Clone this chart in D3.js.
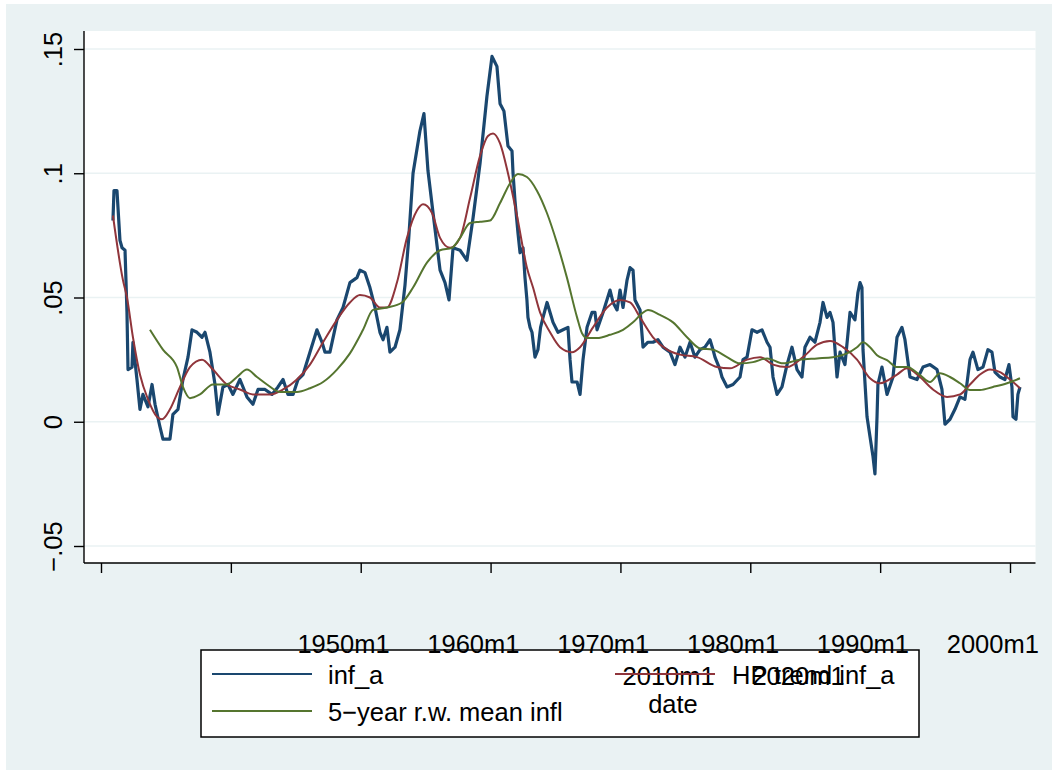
<!DOCTYPE html>
<html>
<head>
<meta charset="utf-8">
<script src="https://cdn.jsdelivr.net/npm/d3@7"></script>
<style>
  body { margin: 0; background: #ffffff; }
  text { font-family: "Liberation Sans", Arial, sans-serif; fill: #000; }
</style>
</head>
<body>
<script>
// inflation series (decimal year, value)
var infYears = [1950.92,1951.00,1951.23,1951.46,1951.62,1951.85,1952.00,1952.08,1952.39,1952.46,1952.77,1953.00,1953.23,1953.62,1953.93,1954.16,1954.54,1954.77,1955.31,1955.54,1955.93,1956.31,1956.70,1957.01,1957.39,1957.78,1958.01,1958.39,1958.78,1959.01,1959.39,1959.78,1960.16,1960.70,1961.24,1961.70,1962.09,1962.63,1963.17,1963.63,1964.02,1964.40,1964.79,1965.17,1965.56,1966.09,1966.63,1967.02,1967.25,1967.63,1968.17,1968.64,1969.17,1969.71,1969.94,1970.33,1970.71,1971.10,1971.48,1971.72,1972.02,1972.25,1972.64,1973.02,1973.41,1973.70,1974.03,1974.56,1974.87,1975.18,1975.57,1976.11,1976.49,1976.80,1977.11,1977.65,1978.18,1978.65,1979.19,1979.72,1980.11,1980.49,1980.73,1981.03,1981.34,1981.65,1981.73,1981.88,1982.11,1982.27,1982.50,1982.65,1982.80,1982.88,1983.04,1983.19,1983.42,1983.65,1983.85,1984.04,1984.35,1984.81,1985.19,1985.58,1985.96,1986.12,1986.27,1986.66,1986.89,1987.12,1987.43,1987.81,1988.04,1988.20,1988.66,1989.20,1989.43,1989.74,1989.97,1990.20,1990.51,1990.74,1990.97,1991.12,1991.51,1991.74,1992.12,1992.51,1992.89,1993.28,1993.82,1994.20,1994.59,1994.97,1995.36,1995.74,1996.13,1996.51,1996.90,1997.13,1997.28,1997.67,1997.82,1998.21,1998.67,1999.21,1999.44,1999.75,2000.13,2000.52,2000.90,2001.29,2001.52,2001.75,2002.06,2002.44,2002.83,2003.21,2003.60,2003.98,2004.21,2004.60,2004.98,2005.37,2005.60,2005.91,2006.14,2006.37,2006.68,2006.91,2007.29,2007.68,2008.06,2008.29,2008.45,2008.60,2008.68,2008.99,2009.22,2009.45,2009.60,2009.76,2009.83,2010.14,2010.53,2010.99,2011.30,2011.68,2011.91,2012.30,2012.84,2013.30,2013.84,2014.38,2014.76,2014.99,2015.38,2015.76,2016.15,2016.53,2016.92,2017.15,2017.53,2017.92,2018.30,2018.61,2018.84,2019.23,2019.61,2019.92,2020.15,2020.23,2020.46,2020.61,2020.77];
var infVals = [.081,.093,.093,.073,.070,.069,.044,.021,.022,.032,.017,.005,.011,.006,.015,.007,-.002,-.007,-.007,.003,.005,.017,.026,.037,.036,.034,.036,.028,.015,.003,.014,.015,.011,.017,.010,.007,.013,.013,.011,.014,.017,.011,.011,.017,.019,.028,.037,.032,.028,.028,.041,.046,.056,.058,.061,.060,.054,.046,.036,.033,.038,.028,.030,.037,.055,.074,.100,.117,.124,.101,.084,.061,.056,.049,.070,.069,.065,.082,.104,.131,.147,.143,.128,.125,.111,.109,.100,.089,.076,.068,.070,.058,.049,.042,.038,.036,.026,.029,.038,.042,.048,.040,.036,.037,.038,.025,.016,.016,.011,.025,.038,.044,.044,.037,.044,.053,.048,.045,.053,.046,.057,.062,.061,.049,.045,.030,.032,.032,.033,.030,.028,.023,.030,.026,.032,.026,.029,.030,.033,.029,.026,.021,.018,.014,.015,.018,.025,.026,.037,.036,.037,.032,.030,.018,.011,.014,.023,.030,.021,.018,.030,.034,.032,.040,.048,.042,.044,.040,.018,.028,.023,.044,.041,.052,.056,.054,.029,.002,-.006,-.014,-.021,.002,.015,.022,.011,.018,.034,.038,.033,.018,.017,.022,.023,.021,.013,-.001,.001,.005,.010,.009,.025,.028,.021,.022,.029,.028,.020,.018,.017,.023,.014,.002,.001,.011,.014];

// HP trend of inf_a
var hpYears = [1950.92,1951.69,1952.00,1952.46,1953.00,1953.62,1954.31,1954.70,1955.31,1956.08,1956.85,1957.78,1958.62,1959.70,1960.70,1961.70,1963.01,1964.02,1965.09,1966.09,1967.10,1968.17,1969.17,1969.94,1970.71,1971.48,1972.02,1972.79,1973.56,1974.33,1974.80,1975.49,1976.11,1976.88,1977.65,1978.42,1979.19,1979.80,1980.19,1980.73,1981.34,1982.03,1982.80,1983.27,1983.81,1984.58,1985.35,1986.27,1986.89,1987.89,1988.97,1989.97,1990.74,1991.51,1992.51,1993.59,1994.59,1995.90,1997.44,1998.44,1999.75,2000.75,2001.75,2002.83,2004.06,2005.14,2006.14,2007.14,2008.22,2009.22,2009.99,2011.30,2012.07,2013.07,2014.07,2015.15,2016.15,2016.92,2017.69,2018.46,2019.23,2020.00,2020.77];
var hpVals = [.083,.057,.050,.034,.019,.009,.002,.001,.005,.014,.022,.025,.021,.015,.013,.011,.011,.013,.017,.023,.032,.041,.048,.051,.050,.046,.046,.056,.074,.085,.0875,.084,.074,.070,.074,.090,.107,.115,.116,.112,.100,.083,.062,.054,.044,.036,.030,.028,.030,.038,.046,.049,.048,.042,.034,.029,.027,.026,.022,.0215,.025,.026,.023,.022,.026,.031,.0325,.030,.025,.0175,.0155,.019,.0215,.018,.013,.010,.011,.015,.019,.021,.020,.017,.0135];

// 5-year rolling-window mean
var rwYears = [1953.77,1954.77,1955.85,1956.31,1956.85,1957.62,1958.62,1959.70,1960.47,1961.24,1962.01,1962.78,1963.78,1965.09,1966.09,1967.10,1968.17,1969.17,1970.18,1970.95,1972.02,1973.18,1974.03,1975.10,1976.11,1977.03,1977.65,1978.42,1979.19,1979.96,1980.73,1981.50,1982.11,1982.80,1983.57,1984.34,1985.11,1985.88,1986.66,1987.04,1987.43,1988.20,1989.20,1990.20,1990.97,1991.66,1992.12,1993.05,1994.05,1995.13,1996.13,1997.13,1998.21,1999.21,2000.21,2001.29,2002.52,2003.83,2005.14,2006.37,2007.45,2008.22,2008.68,2009.22,2009.76,2010.53,2011.30,2012.07,2013.07,2013.84,2014.61,2015.38,2016.15,2016.92,2017.69,2018.69,2019.77,2020.77];
var rwVals = [.037,.029,.022,.014,.0095,.011,.015,.015,.018,.021,.018,.015,.012,.012,.0135,.016,.021,.0275,.037,.045,.046,.048,.054,.064,.069,.070,.074,.080,.0805,.081,.088,.096,.0997,.0985,.093,.084,.072,.058,.042,.0356,.0337,.0337,.035,.037,.040,.0436,.045,.043,.040,.034,.0295,.029,.026,.0235,.024,.0255,.0235,.025,.0255,.026,.0275,.030,.032,.030,.0268,.0248,.022,.022,.0188,.016,.0195,.018,.0155,.0128,.0128,.014,.0155,.0175];

var yTicks = [-0.05, 0, 0.05, 0.1, 0.15];
var yTickLabels = ["\u2212.05", "0", ".05", ".1", ".15"];
var xTicks = [1950, 1960, 1970, 1980, 1990, 2000, 2010, 2020];
var legendLabels = ["inf_a", "5\u2212year r.w. mean infl", "HP trend inf_a"];
var xTitle = "date";

var colBlue = "#1a476f", colRed = "#90353b", colGreen = "#55752f";
var bg = "#eaf2f3";

var width = 1052, height = 770;
var plotLeft = 84, plotRight = 1035.5, plotTop = 31, plotBottom = 563;
var fs = "25.5px";

var svg = d3.select("body").append("svg")
	.attr("width", width)
	.attr("height", height);

//graph region
svg.append("rect").attr("x", 6).attr("y", 4).attr("width", width - 6).attr("height", height - 4).attr("fill", bg);
svg.append("rect").attr("x", plotLeft).attr("y", plotTop)
	.attr("width", plotRight - plotLeft).attr("height", plotBottom - plotTop).attr("fill", "#fff");

var x = d3.scaleLinear().domain([1950, 2020]).range([101, 1010]);
var y = d3.scaleLinear().domain([-0.05, 0.15]).range([546, 49]);

//gridlines
svg.selectAll(".grid")
	.data(yTicks)
	.enter()
	.append("line")
	.attr("class", "grid")
	.attr("x1", plotLeft).attr("x2", plotRight)
	.attr("y1", function(d){ return y(d); })
	.attr("y2", function(d){ return y(d); })
	.attr("stroke", bg)
	.attr("stroke-width", 1.5);

function series(years, vals){
	return years.map(function(t, i){ return [t, vals[i]]; });
}

var line = d3.line()
	.x(function(d){ return x(d[0]); })
	.y(function(d){ return y(d[1]); });

svg.append("path").datum(series(infYears, infVals))
	.attr("d", line).attr("fill", "none").attr("stroke", colBlue)
	.attr("stroke-width", 3.2).attr("stroke-linejoin", "round");
svg.append("path").datum(series(hpYears, hpVals))
	.attr("d", line.curve(d3.curveMonotoneX)).attr("fill", "none").attr("stroke", colRed)
	.attr("stroke-width", 2);
svg.append("path").datum(series(rwYears, rwVals))
	.attr("d", line.curve(d3.curveMonotoneX)).attr("fill", "none").attr("stroke", colGreen)
	.attr("stroke-width", 2);

//axis lines
svg.append("line").attr("x1", plotLeft).attr("x2", plotLeft).attr("y1", plotTop).attr("y2", plotBottom)
	.attr("stroke", "#000").attr("stroke-width", 1.4);
svg.append("line").attr("x1", plotLeft).attr("x2", plotRight).attr("y1", plotBottom).attr("y2", plotBottom)
	.attr("stroke", "#000").attr("stroke-width", 1.4);

//y axis
var yAxis = svg.append("g")
	.attr("transform", "translate(" + plotLeft + ",0)")
	.call(d3.axisLeft(y).tickValues(yTicks).tickSize(10)
		.tickFormat(function(d, i){ return yTickLabels[i]; }));
yAxis.select(".domain").remove();
yAxis.selectAll(".tick line").attr("stroke", "#000").attr("stroke-width", 1.4);
yAxis.selectAll(".tick text")
	.attr("x", 0).attr("y", 0).attr("dy", 0)
	.attr("transform", "translate(-22,0) rotate(-90)")
	.attr("text-anchor", "middle")
	.style("font-size", fs)
	.attr("fill", "#000");

//legend box (drawn under the stray tick labels)
var leg = svg.append("g");
leg.append("rect").attr("x", 201).attr("y", 650).attr("width", 718).attr("height", 87)
	.attr("fill", "#fff").attr("stroke", "#000").attr("stroke-width", 1.5);

//x axis: labels sit where the reference put them
var xAxis = svg.append("g")
	.attr("transform", "translate(0," + plotBottom + ")")
	.call(d3.axisBottom(x).tickValues(xTicks).tickSize(10)
		.tickFormat(function(d){ return d + "m1"; }));
xAxis.select(".domain").remove();
xAxis.selectAll(".tick line").attr("stroke", "#000").attr("stroke-width", 1.4);
xAxis.selectAll(".tick text")
	.attr("dy", 0)
	.attr("x", function(d, i){ return i < 6 ? 242 : -212; })
	.attr("y", function(d, i){ return i < 6 ? 90 : 122; })
	.style("font-size", fs)
	.attr("fill", "#000");

svg.append("text").attr("x", 673).attr("y", 713).attr("text-anchor", "middle")
	.style("font-size", fs).text(xTitle);

//legend keys and labels
var legItems = [
	{label: legendLabels[0], color: colBlue, x1: 212, tx: 328, ly: 674, ty: 684},
	{label: legendLabels[1], color: colGreen, x1: 212, tx: 328, ly: 711, ty: 721},
	{label: legendLabels[2], color: colRed, x1: 615, tx: 732, ly: 674, ty: 684}
];
legItems.forEach(function(it){
	leg.append("text").attr("x", it.tx).attr("y", it.ty).style("font-size", fs).text(it.label);
	svg.append("line").attr("x1", it.x1).attr("x2", it.x1 + 100)
		.attr("y1", it.ly).attr("y2", it.ly)
		.attr("stroke", it.color).attr("stroke-width", 2);
});
</script>
</body>
</html>
